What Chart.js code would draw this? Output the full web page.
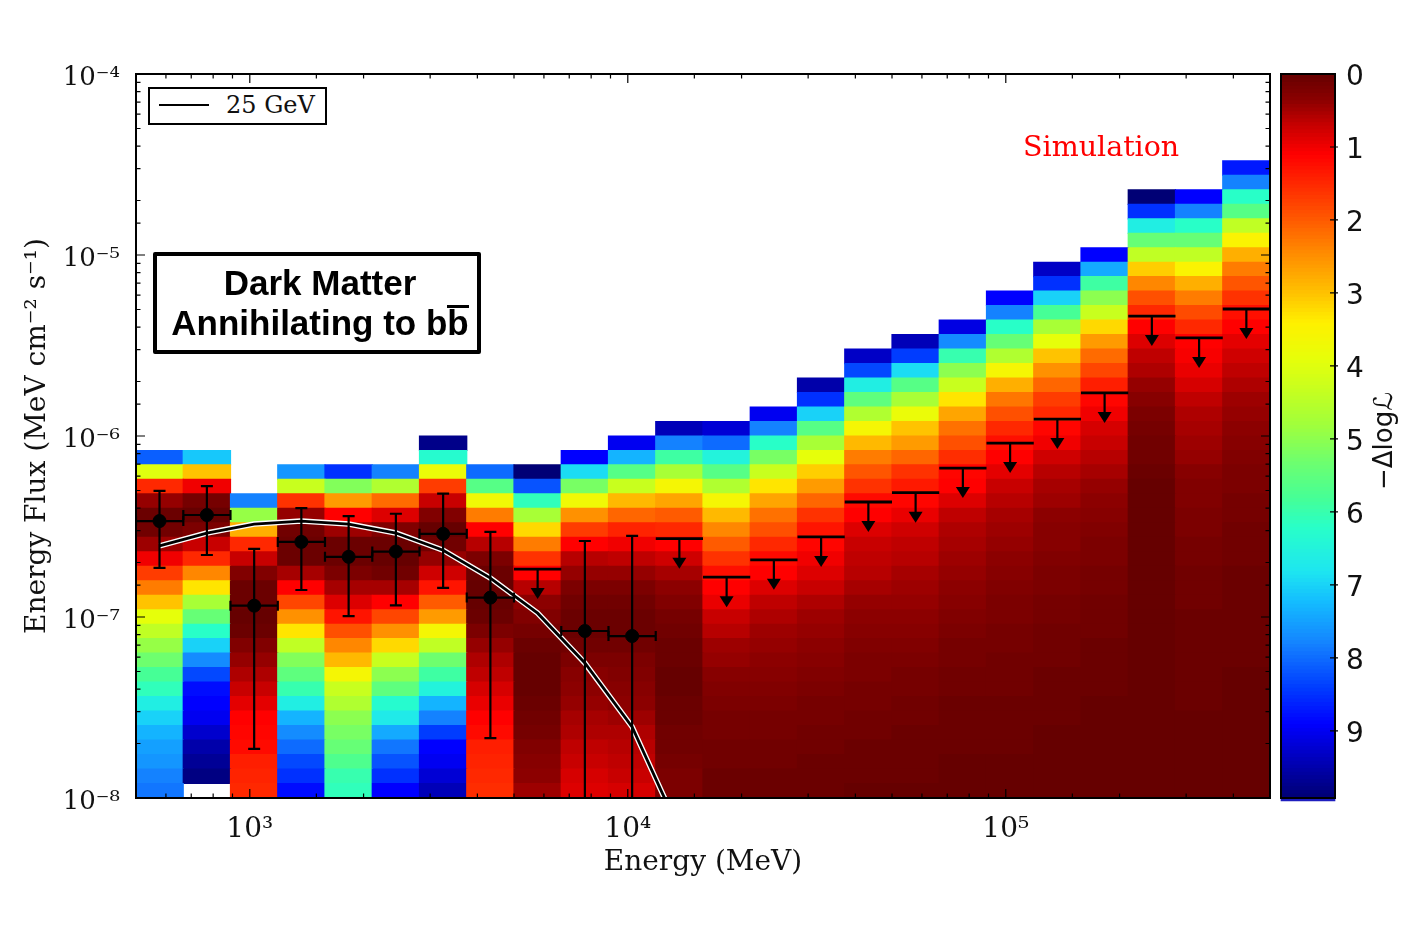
<!DOCTYPE html>
<html>
<head>
<meta charset="utf-8">
<title>Dark Matter Annihilating to bb</title>
<script src="https://cdn.jsdelivr.net/npm/chart.js@4"></script>
<style>
  html, body { margin: 0; padding: 0; background: #fff; }
  body { position: relative; width: 1413px; height: 938px; overflow: hidden; }
  canvas { position: absolute; top: 0; }
  #main { left: 0; }
  #bar { left: 1270px; }
  .legendBox {
    position: absolute; left: 148px; top: 87px; width: 175px; height: 34px;
    border: 2px solid #000; background: #fff;
    font: 24px "DejaVu Serif"; color: #111;
  }
  .legendBox i { position: absolute; left: 9px; top: 15px; width: 50px; height: 2px; background: #000; }
  .legendBox span { position: absolute; left: 76px; top: 2px; white-space: nowrap; }
  .dmBox {
    position: absolute; left: 153px; top: 252px; width: 320px; height: 94px;
    border: 4px solid #000; background: #fff; border-radius: 2px;
    font: bold 35px "Liberation Sans"; color: #000; text-align: center; line-height: 40px;
  }
  .dmBox div { position: relative; top: 7px; left: 3px; white-space: nowrap; }
  .dmBox u { display: inline-block; line-height: 29px; border-top: 3px solid #000; text-decoration: none; }
  .sim { position: absolute; left: 1023px; top: 130px; font: 28.5px "DejaVu Serif"; color: #f00; white-space: nowrap; }
</style>
</head>
<body>
<canvas id="main" width="1413" height="938"></canvas>
<canvas id="bar" width="143" height="938"></canvas>
<div class="legendBox"><i></i><span>25 GeV</span></div>
<div class="dmBox"><div>Dark Matter</div><div>Annihilating to b<u>b</u></div></div>
<div class="sim">Simulation</div>
<script>
// energy bins (MeV)
const binEdges = [500, 667, 889, 1186, 1581, 2109, 2812, 3750, 5000, 6668, 8891, 11856, 15811, 21085, 28117, 37495, 50000, 66676, 88914, 118569, 158114, 210848, 281171, 374947, 500000];
const binCentres = [577, 770, 1027, 1369, 1826, 2435, 3247, 4330, 5774, 7700, 10268, 13692, 18258, 24348, 32468, 43296, 57735, 76992, 102670, 136906, 182565, 243452, 324647, 432927];

// delta log-likelihood per energy bin, highest flux row first, last value sits on the bottom row
const col01 = [8.1,4.0,1.5,.4,.05,.1,.45,1.0,1.7,2.3,3.0,3.9,4.4,4.9,5.3,5.8,6.1,6.6,7.0,7.3,7.5,7.6,7.8,7.9];
const col02 = [7.1,3.0,1.0,.15,0,.2,.7,1.5,2.4,3.3,4.7,5.4,6.2,7.0,7.7,8.3,8.8,8.9,9.0,9.25,9.5,9.65,9.8,null];
const col03 = [7.8,4.9,2.8,1.5,.7,.25,.05,.05,0,.05,.25,.4,.55,.7,.9,1.1,1.15,1.2,1.4,1.45,1.5];
const col04 = [7.6,4.3,1.6,.4,.1,.05,.05,.5,1.1,1.8,2.5,3.3,4.4,5.1,5.5,6.0,6.6,7.3,7.7,8.0,8.3,8.5,8.8];
const col05 = [8.5,5.1,2.6,1.1,.45,.05,.05,.2,.5,.85,1.3,1.9,2.4,2.9,3.6,4.3,4.6,5.0,5.2,5.4,5.7,6.0,6.1];
const col06 = [7.8,4.6,2.15,.85,.25,.05,0,.1,.5,1.1,1.8,2.5,3.2,4.3,5.0,5.5,6.3,6.7,7.4,7.9,8.2,8.5,8.9];
const col07 = [9.75,6.3,3.8,1.7,.7,.25,0,.1,.4,.75,1.3,2.0,2.6,3.6,4.4,5.3,5.9,6.5,7.3,7.8,8.4,8.9,9.0,9.2,9.4];
const col08 = [8.0,5.6,3.7,2.3,1.1,.6,.2,.05,0,0,.05,.2,.4,.55,.65,.8,.95,1.1,1.2,1.4,1.45,1.5,1.55];
const col09 = [9.9,8.2,6.1,4.7,3.2,2.3,1.6,1.1,.6,.35,.25,.15,.05,0,0,0,.05,.1,.15,.25,.3,.35,.45];
const col10 = [8.9,6.9,5.2,3.7,2.5,1.7,1.1,.6,.4,.2,.1,.05,.05,.1,.2,.3,.35,.4,.5,.55,.65,.7,.8,.85];
const col11 = [9.0,7.3,5.6,4.3,2.9,2.1,1.45,1.0,.65,.4,.2,.1,.05,.05,.1,.2,.25,.3,.35,.45,.55,.6,.65,.7,.8];
const col12 = [9.4,7.8,5.9,4.7,3.6,2.7,2.0,1.5,1.1,.75,.5,.35,.25,.15,.1,.05,.05,0,0,.05,.05,.1,.1,.15,.2,.2];
const col13 = [9.2,8.0,6.5,5.6,4.6,3.6,2.9,2.4,2.0,1.6,1.25,1.1,.95,.7,.6,.45,.4,.3,.25,.2,.15,.15,.1,.1,.05,.05];
const col14 = [9.0,7.8,6.2,5.2,4.3,3.3,2.7,2.2,1.9,1.5,1.2,1.1,.85,.65,.55,.45,.4,.35,.3,.25,.2,.15,.15,.1,.1,.05,.05];
const col15 = [9.5,8.5,7.0,5.6,4.7,3.9,3.1,2.6,2.1,1.6,1.3,1.15,1.0,.85,.7,.55,.45,.4,.35,.3,.25,.2,.15,.15,.1,.1,.05,.05,.05];
const col16 = [9.3,8.3,6.6,5.5,4.6,3.6,2.9,2.3,1.95,1.6,1.2,1.1,.85,.7,.65,.6,.5,.4,.35,.3,.25,.2,.2,.15,.15,.1,.1,.05,.05,.05,0];
const col17 = [9.4,8.4,6.9,5.6,4.7,3.8,3.0,2.6,2.1,1.6,1.35,1.15,.95,.75,.65,.6,.5,.45,.4,.35,.3,.25,.2,.15,.15,.1,.1,.05,.05,.05,.05,0];
const col18 = [9.1,7.7,6.0,5.0,4.3,3.3,2.7,2.2,1.9,1.55,1.15,1.1,.85,.65,.55,.5,.45,.4,.35,.3,.25,.2,.15,.15,.1,.1,.05,.05,.05,.05,0,0,0];
const col19 = [8.9,7.8,6.2,5.4,4.6,3.6,2.8,2.25,1.9,1.5,1.25,1.1,.9,.7,.6,.5,.45,.4,.35,.3,.25,.2,.2,.15,.15,.1,.1,.1,.05,.05,.05,.05,0,0,0];
const col20 = [9.3,8.5,7.0,5.8,4.7,3.9,3.0,2.5,2.1,1.7,1.5,1.15,1.0,.75,.6,.5,.45,.35,.3,.3,.25,.2,.2,.15,.15,.1,.1,.1,.05,.05,.05,.05,0,0,0,0,0];
const col21 = [8.9,7.4,5.9,5.0,4.3,3.2,2.6,2.15,1.8,1.4,1.15,1.0,.8,.7,.6,.5,.4,.35,.3,.25,.2,.2,.15,.15,.1,.1,.1,.05,.05,.05,.05,0,0,0,0,0,0,0];
const col22 = [9.9,8.5,6.6,5.4,4.4,3.1,2.4,1.9,1.5,1.1,.85,.65,.55,.4,.3,.2,.15,.1,.1,.05,0,0,0,0,0,0,0,0,0,0,0,0,0,0,0,0,0,0,0,0,0,0];
const col23 = [8.9,7.8,6.2,5.4,4.4,3.5,2.8,2.3,1.85,1.5,1.1,1.05,.95,.8,.65,.55,.5,.45,.4,.3,.25,.25,.2,.2,.15,.15,.1,.1,.1,.05,.05,.05,.05,.05,.05,.05,0,0,0,0,0,0];
const col24 = [8.7,7.8,6.2,5.6,4.4,3.5,2.8,2.3,1.95,1.6,1.25,1.1,.9,.75,.65,.55,.45,.4,.35,.3,.25,.2,.2,.15,.15,.1,.1,.1,.05,.05,.05,.05,.05,.05,.05,0,0,0,0,0,0,0,0,0];
const columns = [col01,col02,col03,col04,col05,col06,col07,col08,col09,col10,col11,col12,col13,col14,col15,col16,col17,col18,col19,col20,col21,col22,col23,col24];

// flux rows, 0.08 decades each
const rowCount = 50;
const rowEdges = [];
for (let k = 0; k <= rowCount; k++) rowEdges.push(Math.pow(10, -8 + 0.08 * k));

// 25 GeV model curve, one value per bin centre
const modelFlux = [2.47e-7, 2.91e-7, 3.26e-7, 3.39e-7, 3.26e-7, 2.91e-7, 2.34e-7, 1.64e-7, 1.05e-7, 5.57e-8, 2.47e-8, 6.6e-9];

// detected bins
const pointBins = [0, 1, 2, 3, 4, 5, 6, 7, 9, 10];
const pointFlux = [3.39e-7, 3.66e-7, 1.155e-7, 2.60e-7, 2.15e-7, 2.30e-7, 2.88e-7, 1.28e-7, 8.37e-8, 7.85e-8];
const pointHigh = [4.97e-7, 5.29e-7, 2.38e-7, 4.0e-7, 3.61e-7, 3.72e-7, 4.80e-7, 2.95e-7, 2.63e-7, 2.81e-7];
const pointLow = [1.866e-7, 2.20e-7, 1.866e-8, 1.41e-7, 1.01e-7, 1.16e-7, 1.45e-7, 2.14e-8, 1e-8, 1e-8];

// upper limits
const limitBins = [8, 11, 12, 13, 14, 15, 16, 17, 18, 19, 20, 21, 22, 23];
const limitFlux = [1.84e-7, 2.71e-7, 1.66e-7, 2.07e-7, 2.77e-7, 4.32e-7, 4.86e-7, 6.65e-7, 9.14e-7, 1.24e-6, 1.73e-6, 4.60e-6, 3.48e-6, 5.03e-6];

// colour bar
const barTicks = [0, 1, 2, 3, 4, 5, 6, 7, 8, 9];
const barTop = 9.92;

const serif = '"DejaVu Serif"';
// colour map
const stops = [
  [0, 102, 0, 0], [.35, 140, 0, 0], [.7, 200, 0, 0], [1.1, 255, 0, 0], [1.5, 255, 40, 0], [1.9, 255, 80, 0],
  [2.45, 255, 140, 0], [3.05, 255, 200, 0], [3.4, 255, 240, 0], [3.9, 230, 255, 10], [4.3, 200, 255, 30],
  [4.8, 160, 255, 60], [5.3, 110, 255, 110], [5.8, 70, 255, 150], [6.2, 40, 255, 200], [6.8, 30, 230, 240],
  [7.2, 20, 190, 255], [7.8, 20, 130, 255], [8.4, 0, 60, 255], [8.9, 0, 0, 255], [9.5, 0, 0, 170], [9.95, 0, 0, 110]
];
function jet(v) {
  for (let i = 1; i < stops.length; i++) {
    if (v <= stops[i][0]) {
      const a = stops[i - 1], b = stops[i];
      const t = (v - a[0]) / (b[0] - a[0]);
      return 'rgb(' + [1, 2, 3].map(c => Math.round(a[c] + (b[c] - a[c]) * t)).join(',') + ')';
    }
  }
  return 'rgb(0,0,110)';
}

const sup = { '-': '⁻', 0: '⁰', 1: '¹', 2: '²', 3: '³', 4: '⁴', 5: '⁵', 6: '⁶', 7: '⁷', 8: '⁸', 9: '⁹' };
function powerText(value) {
  const e = Math.log10(value);
  if (Math.abs(e - Math.round(e)) > 1e-6) return '';
  return '10' + String(Math.round(e)).split('').map(c => sup[c]).join('');
}
// blank first line with a tight line height nudges the label down a few pixels
function nudged(text) {
  return text ? [' ', text] : '';
}

// one bar dataset per flux row
const heatSets = [];
for (let k = 0; k < rowCount; k++) {
  const data = [], colors = [];
  columns.forEach(col => {
    const v = col[col.length - 1 - k];
    if (v === undefined || v === null) {
      data.push(null);
      colors.push('rgba(0,0,0,0)');
    } else {
      data.push([rowEdges[k], rowEdges[k + 1]]);
      colors.push(jet(v));
    }
  });
  heatSets.push({ type: 'bar', data, backgroundColor: colors, borderWidth: 0, inflateAmount: 0.6, xAxisID: 'x', yAxisID: 'y', grouped: false, categoryPercentage: 1, barPercentage: 1, order: 5 });
}

const curve = modelFlux.map((f, i) => ({ x: binCentres[i], y: f }));
const dots = pointBins.map((b, i) => ({ x: binCentres[b], y: pointFlux[i] }));

const errorPlugin = {
  id: 'errorBars',
  afterDatasetsDraw(chart) {
    const { ctx, chartArea: area, scales } = chart;
    const xs = scales.xLog, ys = scales.y;
    ctx.save();
    ctx.beginPath();
    ctx.rect(area.left, area.top, area.width, area.height);
    ctx.clip();
    ctx.strokeStyle = '#000';
    ctx.fillStyle = '#000';
    pointBins.forEach((b, i) => {
      const x = xs.getPixelForValue(binCentres[b]);
      const y = ys.getPixelForValue(pointFlux[i]);
      const x0 = xs.getPixelForValue(binEdges[b]), x1 = xs.getPixelForValue(binEdges[b + 1]);
      const hi = ys.getPixelForValue(pointHigh[i]), lo = ys.getPixelForValue(pointLow[i]);
      ctx.lineWidth = 2.2;
      ctx.beginPath();
      ctx.moveTo(x, hi); ctx.lineTo(x, lo);
      ctx.moveTo(x0, y); ctx.lineTo(x1, y);
      ctx.moveTo(x - 6, hi); ctx.lineTo(x + 6, hi);
      ctx.moveTo(x - 6, lo); ctx.lineTo(x + 6, lo);
      ctx.moveTo(x0, y - 5); ctx.lineTo(x0, y + 5);
      ctx.moveTo(x1, y - 5); ctx.lineTo(x1, y + 5);
      ctx.stroke();
    });
    limitBins.forEach((b, i) => {
      const x = xs.getPixelForValue(binCentres[b]);
      const y = ys.getPixelForValue(limitFlux[i]);
      const x0 = xs.getPixelForValue(binEdges[b]), x1 = xs.getPixelForValue(binEdges[b + 1]);
      ctx.lineWidth = 2.8;
      ctx.beginPath();
      ctx.moveTo(x0, y); ctx.lineTo(x1, y);
      ctx.stroke();
      ctx.lineWidth = 2.2;
      ctx.beginPath();
      ctx.moveTo(x, y); ctx.lineTo(x, y + 22);
      ctx.stroke();
      ctx.beginPath();
      ctx.moveTo(x - 7, y + 19); ctx.lineTo(x + 7, y + 19); ctx.lineTo(x, y + 30);
      ctx.closePath();
      ctx.fill();
    });
    ctx.restore();
  },
  afterDraw(chart) {
    // matplotlib style inward ticks on all four sides, then the frame
    const { ctx, chartArea: area, scales } = chart;
    ctx.save();
    ctx.strokeStyle = '#000';
    ctx.lineWidth = 1.2;
    ctx.beginPath();
    scales.xLog.ticks.forEach((t, i) => {
      const x = scales.xLog.getPixelForTick(i);
      const len = powerText(t.value) ? 9 : 4.5;
      ctx.moveTo(x, area.bottom); ctx.lineTo(x, area.bottom - len);
      ctx.moveTo(x, area.top); ctx.lineTo(x, area.top + len);
    });
    scales.y.ticks.forEach((t, i) => {
      const y = scales.y.getPixelForTick(i);
      const len = powerText(t.value) ? 9 : 4.5;
      ctx.moveTo(area.left, y); ctx.lineTo(area.left + len, y);
      ctx.moveTo(area.right, y); ctx.lineTo(area.right - len, y);
    });
    ctx.stroke();
    ctx.lineWidth = 2;
    ctx.strokeRect(area.left, area.top, area.width, area.height);
    ctx.restore();
  }
};

new Chart(document.getElementById('main').getContext('2d'), {
  type: 'bar',
  data: {
    labels: binCentres.map(String),
    datasets: heatSets.concat([
      { type: 'line', data: curve, xAxisID: 'xLog', yAxisID: 'y', borderColor: '#fff', borderWidth: 5.5, pointRadius: 0, tension: 0, order: 3 },
      { type: 'line', data: curve, xAxisID: 'xLog', yAxisID: 'y', borderColor: '#000', borderWidth: 2.8, pointRadius: 0, tension: 0, order: 2 },
      { type: 'scatter', data: dots, xAxisID: 'xLog', yAxisID: 'y', backgroundColor: '#000', borderColor: '#000', pointRadius: 6.5, order: 1 }
    ])
  },
  options: {
    responsive: false,
    animation: false,
    devicePixelRatio: 1,
    layout: { padding: { top: 74, right: 143, left: 0, bottom: 0 } },
    plugins: { legend: { display: false }, tooltip: { enabled: false } },
    scales: {
      x: { type: 'category', display: false, offset: true, stacked: false },
      xLog: {
        type: 'logarithmic', position: 'bottom', min: 500, max: 500000,
        grid: { display: false }, border: { display: false },
        ticks: { autoSkip: false, maxRotation: 0, padding: 7, color: '#111', font: { family: serif, size: 28 }, callback: powerText },
        title: { display: true, text: 'Energy (MeV)', color: '#111', font: { family: serif, size: 28 }, padding: { top: 0, bottom: 58 } },
        afterFit(s) { s.height = 140; }
      },
      y: {
        type: 'logarithmic', min: 1e-8, max: 1e-4,
        grid: { display: false }, border: { display: false },
        ticks: { autoSkip: false, padding: 8, color: '#111', font: { family: serif, size: 26, lineHeight: '8px' }, callback: v => nudged(powerText(v)) },
        title: { display: true, text: 'Energy Flux (MeV cm⁻² s⁻¹)', color: '#111', font: { family: serif, size: 28 }, padding: { top: 21, bottom: 0 } },
        afterFit(s) { s.width = 136; }
      }
    }
  },
  plugins: [errorPlugin]
});

// colour bar as its own small chart
const barSets = [];
for (let v = 0; v < barTop; v += 0.05) {
  barSets.push({ data: [[v, v + 0.055]], backgroundColor: jet(v + 0.025), borderWidth: 0, grouped: false, categoryPercentage: 1, barPercentage: 1 });
}
barSets.push({ data: [[barTop, barTop + 0.04]], backgroundColor: 'rgb(30,30,190)', borderWidth: 0, grouped: false, categoryPercentage: 1, barPercentage: 1, clip: false });

const barPlugin = {
  id: 'barFrame',
  afterDraw(chart) {
    const { ctx, chartArea: area, scales } = chart;
    ctx.save();
    ctx.strokeStyle = '#000';
    ctx.lineWidth = 1.2;
    ctx.beginPath();
    scales.y.ticks.forEach((t, i) => {
      if (t.value === 0) return;
      const y = scales.y.getPixelForTick(i);
      ctx.moveTo(area.right - 5, y); ctx.lineTo(area.right + 3, y);
    });
    ctx.stroke();
    ctx.lineWidth = 2;
    ctx.strokeRect(area.left, area.top, area.width, area.height);
    ctx.translate(115, 441);
    ctx.rotate(-Math.PI / 2);
    ctx.fillStyle = '#111';
    ctx.textAlign = 'center';
    ctx.textBaseline = 'middle';
    ctx.font = '26px "DejaVu Sans"';
    ctx.fillText('−Δlogℒ', 0, 0);
    ctx.restore();
  }
};

new Chart(document.getElementById('bar').getContext('2d'), {
  type: 'bar',
  data: { labels: ['level'], datasets: barSets },
  options: {
    responsive: false,
    animation: false,
    devicePixelRatio: 1,
    layout: { padding: { top: 74, left: 11, right: 0, bottom: 140 } },
    plugins: { legend: { display: false }, tooltip: { enabled: false } },
    scales: {
      x: { type: 'category', display: false, offset: true },
      y: {
        position: 'right', reverse: true, min: 0, max: barTop,
        grid: { display: false }, border: { display: false },
        afterBuildTicks(s) { s.ticks = barTicks.map(v => ({ value: v })); },
        ticks: { autoSkip: false, includeBounds: false, padding: 3, color: '#111', font: { family: 'DejaVu Sans', size: 28, lineHeight: '7px' }, callback: v => [' ', String(v)] },
        afterFit(s) { s.width = 78; }
      }
    }
  },
  plugins: [barPlugin]
});
</script>
</body>
</html>
